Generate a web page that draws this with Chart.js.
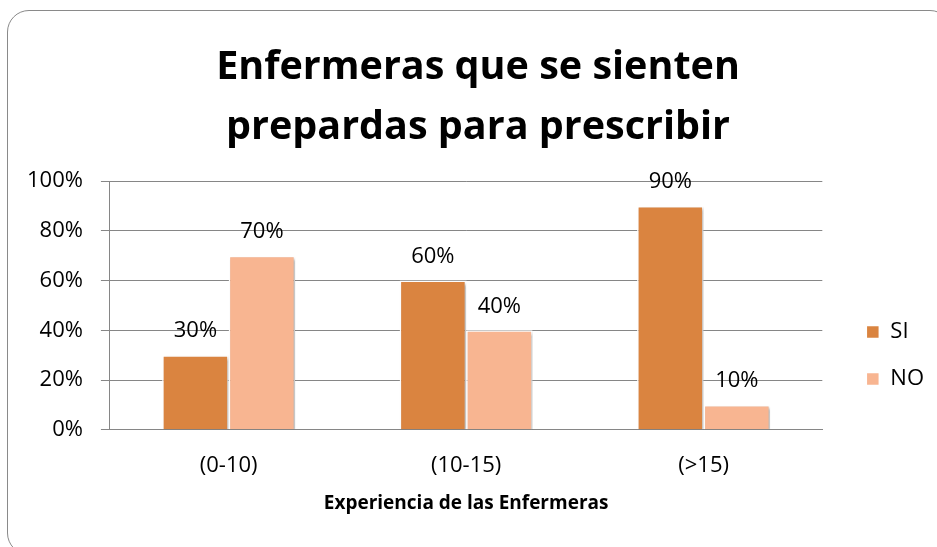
<!DOCTYPE html>
<html>
<head>
<meta charset="utf-8">
<script src="https://cdn.jsdelivr.net/npm/chart.js@4.4.1/dist/chart.umd.min.js"></script>
<style>
  html, body { margin: 0; padding: 0; background: #fff; overflow: hidden; }
  #marco {
    position: absolute; left: 7px; top: 10px; width: 945px; height: 545px;
    border: 1.5px solid #8a8a8a; border-radius: 22px; box-sizing: border-box;
  }
  #grafico { position: absolute; left: 0; top: 0; }
</style>
</head>
<body>
<div id="marco"></div>
<canvas id="grafico" width="937" height="547"></canvas>
<script>
const categorias = ['(0-10)', '(10-15)', '(>15)']
const valoresSi = [30, 60, 90]
const valoresNo = [70, 40, 10]
const ticksY = [0, 20, 40, 60, 80, 100]

const fuente = '"Open Sans", "Noto Sans", sans-serif'

// etiquetas encima de las barras + sombra suave
const etiquetas = {
  id: 'etiquetas',
  beforeDatasetsDraw(chart) {
    const ctx = chart.ctx
    ctx.save()
    ctx.shadowColor = 'rgba(0,0,0,0.28)'
    ctx.shadowBlur = 3
    ctx.shadowOffsetX = 2
    ctx.shadowOffsetY = 2
  },
  afterDatasetsDraw(chart) {
    const ctx = chart.ctx
    ctx.restore()
    ctx.save()
    ctx.font = '22px ' + fuente
    ctx.fillStyle = '#000'
    ctx.textAlign = 'center'
    ctx.textBaseline = 'middle'
    chart.data.datasets.forEach((ds, i) => {
      chart.getDatasetMeta(i).data.forEach((barra, j) => {
        ctx.fillText(ds.data[j] + '%', barra.x, barra.y - 24)
      })
    })
    ctx.restore()
  }
}

// mover la leyenda y el titulo como en la imagen
const ajuste = {
  id: 'ajuste',
  afterLayout(chart) {
    const l = chart.legend
    l.left += 19; l.right += 19
    l.top += 91; l.bottom += 91
    const t = chart.titleBlock
    t.left += 32
  }
}

const ctx = document.getElementById('grafico').getContext('2d')
const grafico = new Chart(ctx, {
  type: 'bar',
  data: {
    labels: categorias,
    datasets: [{
      label: 'SI',
      data: valoresSi,
      backgroundColor: '#DA8440',
      borderColor: '#ffffff',
      borderWidth: 1.5,
      categoryPercentage: 0.56,
      barPercentage: 1
    }, {
      label: 'NO',
      data: valoresNo,
      backgroundColor: '#F8B591',
      borderColor: '#ffffff',
      borderWidth: 1.5,
      categoryPercentage: 0.56,
      barPercentage: 1
    }]
  },
  options: {
    responsive: false,
    devicePixelRatio: 1,
    animation: false,
    events: [],
    layout: { padding: { left: 9, right: 22, top: 10, bottom: 28 } },
    scales: {
      x: {
        grid: { display: false, drawTicks: false },
        border: { display: true, color: '#868686', width: 1 },
        ticks: { color: '#000', padding: 23, font: { family: fuente, size: 22 } },
        title: {
          display: true,
          text: 'Experiencia de las Enfermeras',
          color: '#000',
          font: { family: fuente, size: 19, weight: 'bold' },
          padding: { top: -10, bottom: 4 }
        }
      },
      y: {
        min: 0,
        max: 100,
        afterBuildTicks(scale) { scale.ticks = ticksY.map(v => ({ value: v })) },
        grid: { color: '#868686', lineWidth: 1, tickLength: 9 },
        border: { color: '#868686', width: 1 },
        ticks: {
          color: '#000',
          padding: 18,
          font: { family: fuente, size: 22 },
          callback: v => v + '%'
        }
      }
    },
    plugins: {
      title: {
        display: true,
        text: ['Enfermeras que se sienten', 'prepardas para prescribir'],
        color: '#000',
        font: { family: fuente, size: 39.5, weight: 'bold', lineHeight: 60 / 39.5 },
        padding: { top: 28, bottom: 23 }
      },
      legend: {
        position: 'right',
        labels: {
          color: '#000',
          boxWidth: 13,
          boxHeight: 13,
          padding: 25,
          font: { family: fuente, size: 22 }
        }
      },
      tooltip: { enabled: false }
    }
  },
  plugins: [etiquetas, ajuste]
})
</script>
</body>
</html>
